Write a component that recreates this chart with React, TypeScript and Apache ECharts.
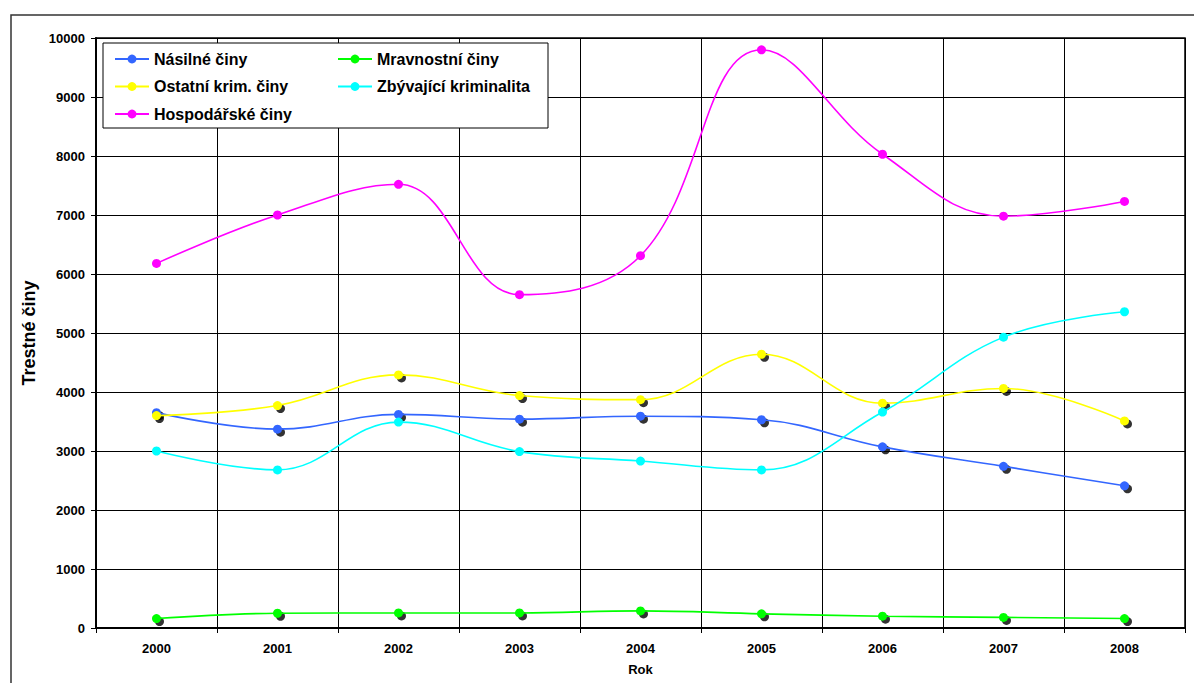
import React, { useEffect, useRef } from "react";
import * as echarts from "echarts";

const years = ["2000", "2001", "2002", "2003", "2004", "2005", "2006", "2007", "2008"];
const nasilne = [3650, 3370, 3620, 3540, 3590, 3530, 3070, 2740, 2410];
const mravnostni = [160, 250, 255, 255, 290, 240, 200, 180, 160];
const ostatni = [3600, 3770, 4290, 3940, 3870, 4640, 3810, 4060, 3510];
const zbyvajici = [3000, 2680, 3490, 2990, 2830, 2680, 3660, 4930, 5360];
const hospodarske = [6180, 7000, 7520, 5650, 6310, 9800, 8030, 6980, 7230];

const FONT = "'Liberation Sans', Arial, sans-serif";

export default function App() {
  const ref = useRef<HTMLDivElement>(null);
  useEffect(() => {
    if (!ref.current) return;
    const chart = echarts.init(ref.current, null, { renderer: "svg" });
    const mk = (name: string, data: number[], color: string) => ({
      name,
      type: "line",
      data,
      smooth: 0.4,
      symbol: "circle",
      symbolSize: 9,
      showSymbol: true,
      z: 3,
      lineStyle: { color, width: 1.6 },
      itemStyle: { color },
    });
    const shadow = (data: number[]) => ({
      type: "scatter",
      data,
      symbol: "circle",
      symbolSize: 9,
      symbolOffset: [3, 3],
      itemStyle: { color: "#000" },
      z: 2,
      silent: true,
    });
    const legendText = { fontFamily: FONT, fontWeight: "bold", fontSize: 16, color: "#000" };
    chart.setOption({
      animation: false,
      textStyle: { fontFamily: FONT },
      grid: {
        left: 96,
        top: 38,
        right: 9,
        bottom: 55,
        show: true,
        borderColor: "#000",
        borderWidth: 1.5,
        backgroundColor: "transparent",
      },
      graphic: [
        {
          type: "rect",
          shape: { x: 11, y: 15, width: 1200, height: 700 },
          style: { fill: "none", stroke: "#333", lineWidth: 1.5 },
          z: 0,
          silent: true,
        },
        {
          type: "rect",
          shape: { x: 103, y: 43, width: 445, height: 85 },
          style: { fill: "#fff", stroke: "#000", lineWidth: 1 },
          z: 5,
          silent: true,
        },
      ],
      legend: [
        {
          orient: "vertical",
          left: 114,
          top: 51,
          padding: 0,
          itemWidth: 34,
          itemHeight: 11,
          itemGap: 11.5,
          textStyle: legendText,
          data: ["Násilné činy", "Ostatní krim. činy", "Hospodářské činy"],
          z: 10,
        },
        {
          orient: "vertical",
          left: 337,
          top: 51,
          padding: 0,
          itemWidth: 34,
          itemHeight: 11,
          itemGap: 11.5,
          textStyle: legendText,
          data: ["Mravnostní činy", "Zbývající kriminalita"],
          z: 10,
        },
      ],
      xAxis: {
        type: "category",
        data: years,
        boundaryGap: true,
        name: "Rok",
        nameLocation: "middle",
        nameGap: 35,
        nameTextStyle: { fontFamily: FONT, fontWeight: "bold", fontSize: 13, color: "#000" },
        axisLine: { lineStyle: { color: "#000", width: 2 } },
        axisTick: { show: true, length: 5, lineStyle: { color: "#000" } },
        axisLabel: { fontFamily: FONT, fontWeight: "bold", fontSize: 13, color: "#000", margin: 14 },
        splitLine: { show: true, lineStyle: { color: "#000", width: 1 } },
      },
      yAxis: {
        type: "value",
        min: 0,
        max: 10000,
        interval: 1000,
        name: "Trestné činy",
        nameLocation: "middle",
        nameGap: 57,
        nameTextStyle: { fontFamily: FONT, fontWeight: "bold", fontSize: 18, color: "#000" },
        axisLine: { show: true, lineStyle: { color: "#000", width: 2 } },
        axisTick: { show: true, length: 5, lineStyle: { color: "#000" } },
        axisLabel: {
          fontFamily: FONT,
          fontWeight: "bold",
          fontSize: 13,
          color: "#000",
          margin: 11,
          formatter: (v: number) => String(v),
        },
        splitLine: { show: true, lineStyle: { color: "#000", width: 1 } },
      },
      series: [
        shadow(nasilne),
        shadow(ostatni),
        shadow(mravnostni),
        mk("Násilné činy", nasilne, "#3366ff"),
        mk("Mravnostní činy", mravnostni, "#00ff00"),
        mk("Ostatní krim. činy", ostatni, "#ffff00"),
        mk("Zbývající kriminalita", zbyvajici, "#00ffff"),
        mk("Hospodářské činy", hospodarske, "#ff00ff"),
      ],
    });
    return () => chart.dispose();
  }, []);
  return (
    <div
      ref={ref}
      style={{ position: "fixed", left: 0, top: 0, width: 1194, height: 683, background: "#fff" }}
    />
  );
}
